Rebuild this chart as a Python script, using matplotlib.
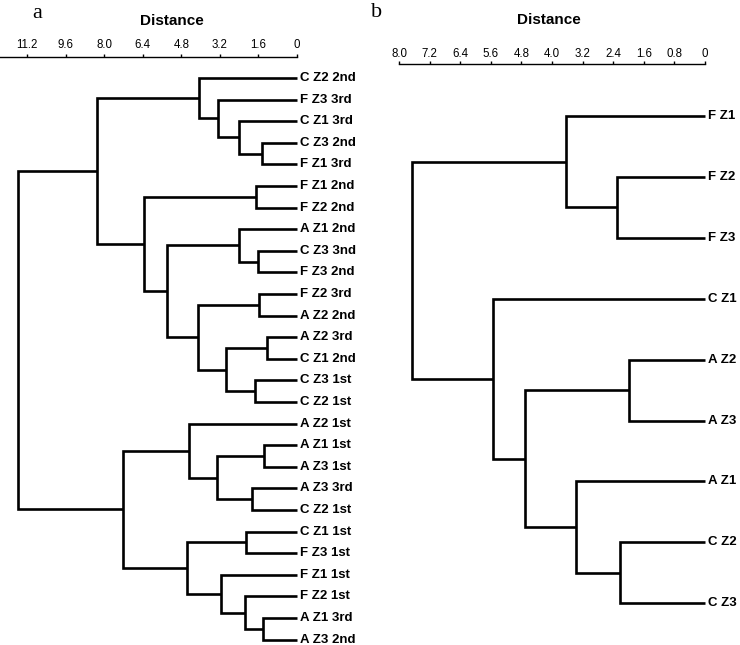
import matplotlib
matplotlib.use("Agg")
import matplotlib.pyplot as plt

# panel a: leaves top to bottom, merges as (child, child, distance), new node ids from len(leaves)
leaves_a = ["C Z2 2nd", "F Z3 3rd", "C Z1 3rd", "C Z3 2nd", "F Z1 3rd",
            "F Z1 2nd", "F Z2 2nd", "A Z1 2nd", "C Z3 3nd", "F Z3 2nd",
            "F Z2 3rd", "A Z2 2nd", "A Z2 3rd", "C Z1 2nd", "C Z3 1st",
            "C Z2 1st", "A Z2 1st", "A Z1 1st", "A Z3 1st", "A Z3 3rd",
            "C Z2 1st", "C Z1 1st", "F Z3 1st", "F Z1 1st", "F Z2 1st",
            "A Z1 3rd", "A Z3 2nd"]
merges_a = [(3, 4, 1.45), (2, 27, 2.40), (1, 28, 3.28), (0, 29, 4.07),
            (5, 6, 1.70), (8, 9, 1.62), (7, 32, 2.40), (10, 11, 1.58),
            (12, 13, 1.25), (14, 15, 1.74), (35, 36, 2.95), (34, 37, 4.10),
            (33, 38, 5.40), (31, 39, 6.35), (30, 40, 8.30),
            (17, 18, 1.37), (19, 20, 1.87), (42, 43, 3.32), (16, 44, 4.48),
            (21, 22, 2.12), (25, 26, 1.41), (24, 47, 2.16), (23, 48, 3.15),
            (46, 49, 4.56), (45, 50, 7.22), (41, 51, 11.58)]
ticks_a = [0, 1.6, 3.2, 4.8, 6.4, 8.0, 9.6, 11.2]
ticklabels_a = ["0", "1.6", "3.2", "4.8", "6.4", "8.0", "9.6", "11.2"]

# panel b
leaves_b = ["F Z1", "F Z2", "F Z3", "C Z1", "A Z2", "A Z3", "A Z1", "C Z2", "C Z3"]
merges_b = [(1, 2, 2.30), (0, 9, 3.63), (4, 5, 1.99), (7, 8, 2.22),
            (6, 12, 3.37), (11, 13, 4.71), (3, 14, 5.54), (10, 15, 7.66)]
ticks_b = [0, 0.8, 1.6, 2.4, 3.2, 4.0, 4.8, 5.6, 6.4, 7.2, 8.0]
ticklabels_b = ["0", "0.8", "1.6", "2.4", "3.2", "4.0", "4.8", "5.6", "6.4", "7.2", "8.0"]

W, H = 740, 645
fig = plt.figure(figsize=(W / 100, H / 100), dpi=100)
sans = "Liberation Sans"
serif = "Liberation Serif"


def draw_tree(ax, leaves, merges, ticks, ticklabels, pad):
    ys = list(range(len(leaves)))
    xs = [0.0] * len(leaves)
    for c1, c2, h in merges:
        ax.plot([xs[c1], h, h, xs[c2]], [ys[c1], ys[c1], ys[c2], ys[c2]],
                color="black", lw=1.9, solid_joinstyle="miter",
                solid_capstyle="butt", clip_on=False)
        xs.append(h)
        ys.append((ys[c1] + ys[c2]) / 2)
    for i, lab in enumerate(leaves):
        ax.annotate(lab, (0, i), xytext=(2.5, 0), textcoords="offset points",
                    ha="left", va="center", fontsize=9.5, fontweight="bold",
                    family=sans, annotation_clip=False)
    ax.xaxis.tick_top()
    ax.set_xticks(ticks)
    ax.set_xticklabels(ticklabels, family=sans)
    ax.tick_params(axis="x", direction="out", length=2.5, width=1, pad=pad, labelsize=8.3)
    ax.set_yticks([])
    for s in ["bottom", "left", "right"]:
        ax.spines[s].set_visible(False)
    ax.spines["top"].set_linewidth(1)
    ax.patch.set_alpha(0)


# panel a
ax1 = fig.add_axes([0 / W, 0, 297 / W, (H - 57) / H])
ax1.set_xlim(12.32, 0)
ax1.set_ylim((H - 78) / 21.6, (57 - 78) / 21.6)
draw_tree(ax1, leaves_a, merges_a, ticks_a, ticklabels_a, 2.0)

# panel b
ax2 = fig.add_axes([399 / W, 0, 306 / W, (H - 64) / H])
ax2.set_xlim(8.0, 0)
ax2.set_ylim((H - 116) / 60.9, (64 - 116) / 60.9)
draw_tree(ax2, leaves_b, merges_b, ticks_b, ticklabels_b, 0.5)

fig.text(172 / W, 1 - 21 / H, "Distance", ha="center", va="center",
         fontsize=11, fontweight="bold", family=sans)
fig.text(549 / W, 1 - 20 / H, "Distance", ha="center", va="center",
         fontsize=11, fontweight="bold", family=sans)
fig.text(37 / W, 1 - 18 / H, "a", ha="center", va="baseline", fontsize=16, family=serif)
fig.text(377 / W, 1 - 17 / H, "b", ha="center", va="baseline", fontsize=16, family=serif)

fig.savefig("out.png", dpi=100)
